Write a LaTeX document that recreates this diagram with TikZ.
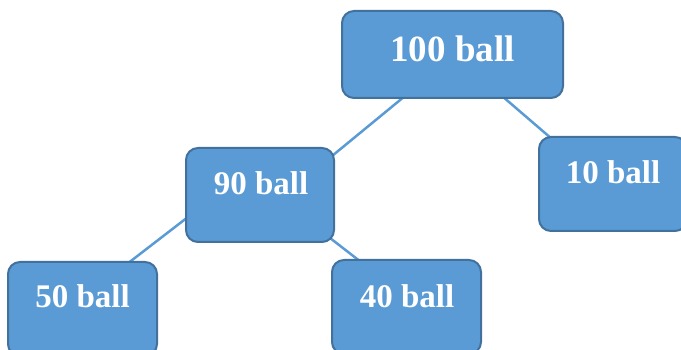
\documentclass[tikz,border=0pt]{standalone}
\usepackage{fontspec}
\setmainfont{Liberation Serif}
\usetikzlibrary{calc}
\definecolor{boxfill}{HTML}{5B9BD5}
\definecolor{boxedge}{HTML}{41719C}
\definecolor{linkcol}{HTML}{5B9BD5}
\tikzset{
  ballbox/.style={draw=boxedge, fill=boxfill, line width=2pt, rounded corners=12pt, inner sep=0pt},
  balltext/.style={text=white, font=\bfseries\fontsize{33}{33}\selectfont, anchor=base, inner sep=0pt},
  bigtext/.style={balltext, font=\bfseries\fontsize{37}{37}\selectfont},
  link/.style={draw=linkcol, line width=2.5pt}
}
\begin{document}
\begin{tikzpicture}[x=1pt,y=1pt]
\useasboundingbox (0,0) rectangle (681,-350);
% box positions
\path
  node[ballbox, minimum width=219pt, minimum height=85pt, draw=none, fill=none] (a) at (452.5,-54.5) {}
  node[ballbox, minimum width=146pt, minimum height=92pt, draw=none, fill=none] (b) at (260,-195) {}
  node[ballbox, minimum width=146pt, minimum height=92pt, draw=none, fill=none] (c) at (613,-184) {}
  node[ballbox, minimum width=147pt, minimum height=92pt, draw=none, fill=none] (d) at (82.5,-309) {}
  node[ballbox, minimum width=147pt, minimum height=92pt, draw=none, fill=none] (e) at (406.5,-307) {};
% connectors
\draw[link] ($(a.south)+(-47.5,2)$) -- ($(b.north east)+(-2,-8)$);
\draw[link] ($(a.south)+(49.5,2)$) -- ($(c.north west)+(13,-2)$);
\draw[link] ($(b.west)+(2,-22)$) -- ($(d.north west)+(119,-2)$);
\draw[link] ($(b.south east)+(-4,4)$) -- ($(e.north west)+(29,-2)$);
% visible boxes
\foreach \n in {a,b,c,d,e}{
  \draw[ballbox] (\n.south west) rectangle (\n.north east);
}
% labels
\node[bigtext] (ta) at (452.5,-62) {100 ball};
\node[balltext] (tb) at (261,-195) {90 ball};
\node[balltext] (tc) at (613,-184) {10 ball};
\node[balltext] (td) at (82.5,-308) {50 ball};
\node[balltext] (te) at (407,-307) {40 ball};
\end{tikzpicture}
\end{document}
